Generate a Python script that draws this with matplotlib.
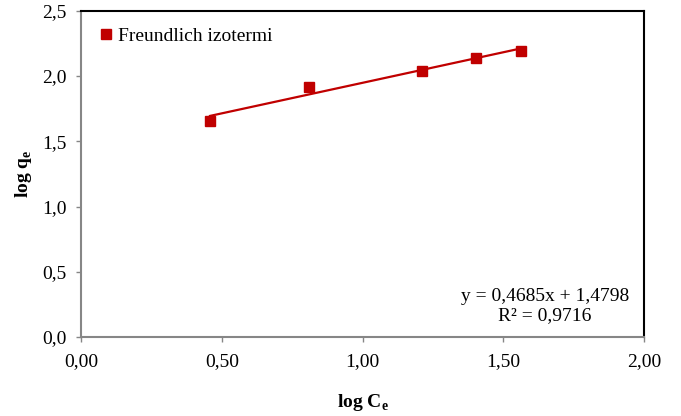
import numpy as np
import matplotlib.pyplot as plt

plt.rcParams['font.family'] = ['Liberation Serif', 'DejaVu Serif']
plt.rcParams['mathtext.fontset'] = 'custom'
plt.rcParams['mathtext.rm'] = 'Liberation Serif'
plt.rcParams['mathtext.bf'] = 'Liberation Serif:bold'

# data
log_ce = [0.458, 0.810, 1.210, 1.403, 1.563]
log_qe = [1.656, 1.917, 2.035, 2.140, 2.193]

slope = 0.4685
intercept = 1.4798
r2 = 0.9716

x_ticks = [0.0, 0.5, 1.0, 1.5, 2.0]
x_labels = ['0,00', '0,50', '1,00', '1,50', '2,00']
y_ticks = [0.0, 0.5, 1.0, 1.5, 2.0, 2.5]
y_labels = ['0,0', '0,5', '1,0', '1,5', '2,0', '2,5']

red = '#C00000'
grey = '#868686'

fig = plt.figure(figsize=(6.81, 4.16), dpi=100)
ax = fig.add_axes([0.119, 0.19, 0.827, 0.784])

xs = np.array([min(log_ce), max(log_ce)])
ax.plot(xs, slope * xs + intercept, color=red, lw=1.6, zorder=2)
ax.plot(log_ce, log_qe, 's', color=red, ms=6.5, zorder=3, label='Freundlich izotermi')

ax.set_xlim(0, 2)
ax.set_ylim(0, 2.5)
ax.set_xticks(x_ticks)
ax.set_xticklabels(x_labels)
ax.set_yticks(y_ticks)
ax.set_yticklabels(y_labels)
ax.tick_params(direction='out', length=3.5, width=1, color=grey, labelsize=14)
ax.tick_params(axis='x', pad=8)
ax.tick_params(axis='y', pad=7)

for side in ['left', 'bottom']:
    ax.spines[side].set_color(grey)
    ax.spines[side].set_linewidth(1.5)
for side in ['top', 'right']:
    ax.spines[side].set_color('black')
    ax.spines[side].set_linewidth(1.5)

ax.set_xlabel(r'log C$_{\mathbf{e}}$', fontsize=14, fontweight='bold', labelpad=16)
ax.set_ylabel(r'log q$_{\mathbf{e}}$', fontsize=14, fontweight='bold', labelpad=5.5)

ax.legend(loc='upper left', frameon=False, fontsize=14, handletextpad=0.0,
          handlelength=1.2, borderaxespad=0.3, bbox_to_anchor=(0.0, 0.99))

eq = 'y = %sx + %s\nR² = %s' % (str(slope).replace('.', ','),
                                str(intercept).replace('.', ','),
                                str(r2).replace('.', ','))
ax.text(0.824, 0.095, eq, transform=ax.transAxes, ha='center', va='center',
        fontsize=14, multialignment='center', linespacing=1.1)

fig.savefig('out.png', dpi=100)
